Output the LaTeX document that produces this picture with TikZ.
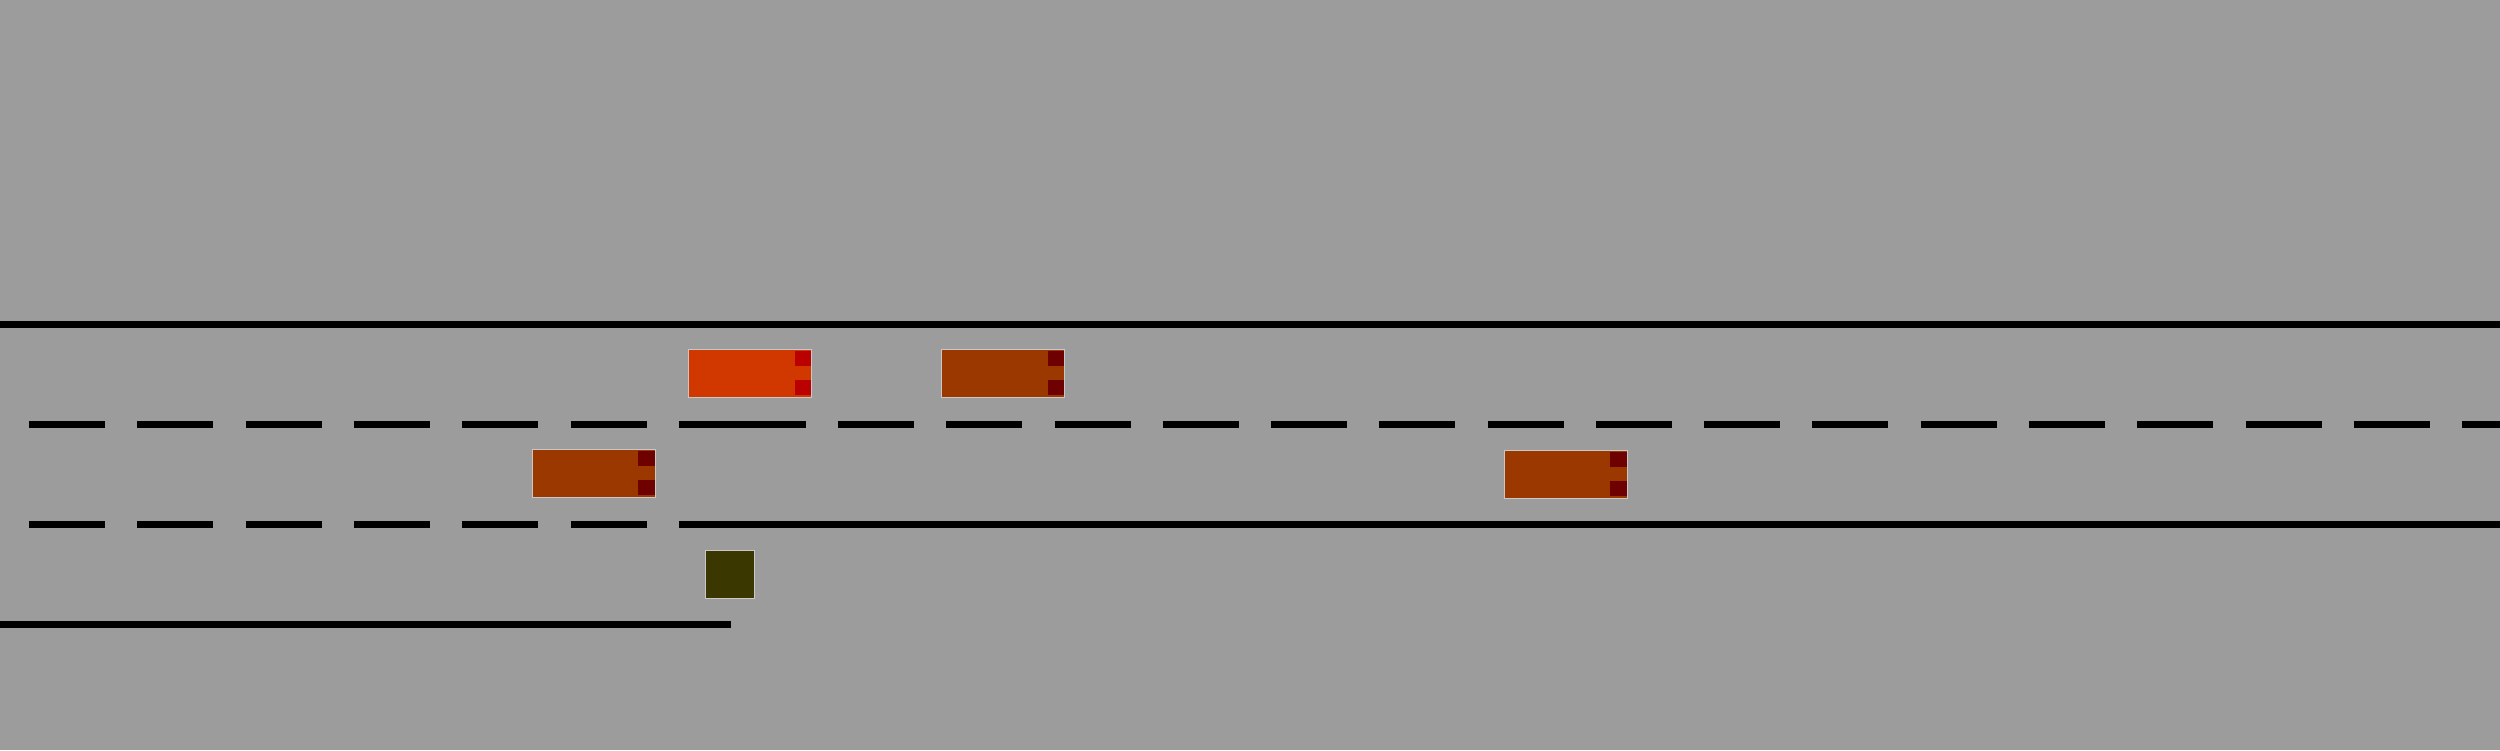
\documentclass[tikz,border=0pt]{standalone}
\definecolor{bg}{RGB}{156,156,156}
\definecolor{egobody}{RGB}{208,56,0}
\definecolor{egolight}{RGB}{187,0,0}
\definecolor{carbody}{RGB}{154,56,0}
\definecolor{carlight}{RGB}{110,0,0}
\definecolor{objbody}{RGB}{58,56,0}
\definecolor{edge}{RGB}{200,200,200}
\newcommand\vehiclebox[4]{%
  \begin{scope}[shift={(#1,#2)}]
    \fill[#3] (0,0) rectangle (124,49);
    \fill[#4] (106.5,2) rectangle (123.5,17);
    \fill[#4] (106.5,31) rectangle (123.5,46);
    \draw[edgeline] (0.5,0.5) rectangle (123.5,48.5);
  \end{scope}}
\begin{document}
\begin{tikzpicture}[x=0.01cm,y=-0.01cm,
  lane/.style={line width=0.07cm,black,line cap=butt},
  edgeline/.style={draw=edge,line width=0.01cm}]
\useasboundingbox[fill=bg] (0,0) rectangle (2500,750);
% road borders
\draw[lane] (0,324.5) -- (2500,324.5);
\draw[lane] (679,524.5) -- (2500,524.5);
\draw[lane] (0,624.5) -- (731,624.5);
% left segment dashes (both lane lines)
\foreach \i in {0,...,5}{
  \draw[lane] ({29+108.3*\i},424.5) -- ++(76,0);
  \draw[lane] ({29+108.3*\i},524.5) -- ++(76,0);
}
\draw[lane] (679,424.5) -- (806,424.5);
% right segment dashes
\foreach \i in {0,...,14}{
  \draw[lane] ({838+108.27*\i},424.5) -- ++(76,0);
}
\draw[lane] (2462,424.5) -- (2500,424.5);
% vehicles
\vehiclebox{688}{349}{egobody}{egolight}
\vehiclebox{941}{348.5}{carbody}{carlight}
\vehiclebox{531.5}{448.5}{carbody}{carlight}
\vehiclebox{1503.5}{449.5}{carbody}{carlight}
% obstacle
\fill[objbody] (705,549.5) rectangle (755,598.5);
\draw[edgeline] (705.5,550) rectangle (754.5,598);
\end{tikzpicture}
\end{document}
